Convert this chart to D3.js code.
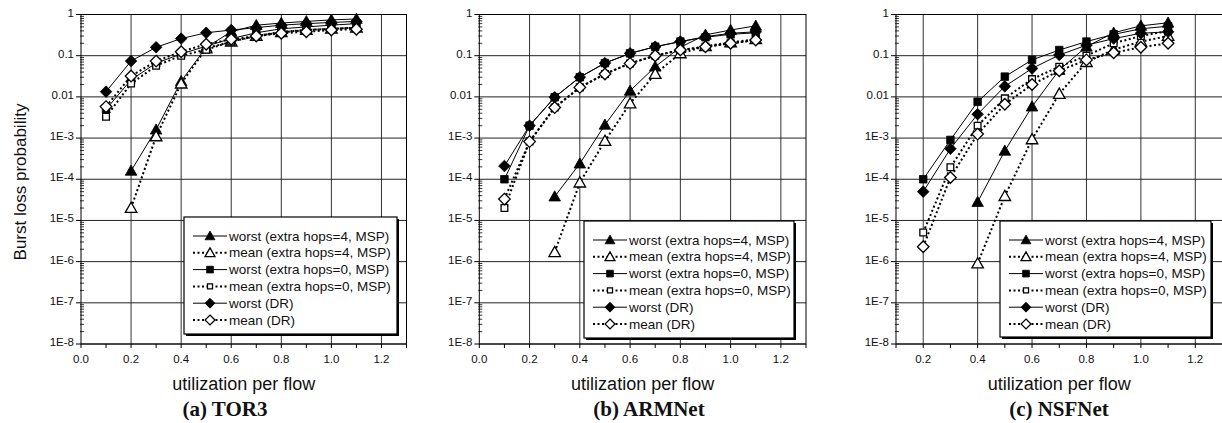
<!DOCTYPE html>
<html>
<head>
<meta charset="utf-8">
<script src="https://cdn.jsdelivr.net/npm/d3@7"></script>
<style>
  body { margin: 0; background: #fff; }
  svg text { font-family: Arial, "Liberation Sans", sans-serif; fill: #111; }
  .title { font-family: "Liberation Serif", "Times New Roman", serif; font-weight: bold; }
</style>
</head>
<body>
<svg id="chart" width="1222" height="423"></svg>
<script>
// ---- data (null = no point) ----
var utilization = [0.1, 0.2, 0.3, 0.4, 0.5, 0.6, 0.7, 0.8, 0.9, 1.0, 1.1];

var seriesLabels = ["worst (extra hops=4, MSP)", "mean (extra hops=4, MSP)",
                    "worst (extra hops=0, MSP)", "mean (extra hops=0, MSP)",
                    "worst (DR)", "mean (DR)"];
var seriesMarkers = ["triangle", "triangle", "square", "square", "diamond", "diamond"];
var seriesFilled = [true, false, true, false, true, false];

// (a) TOR3
var tor3WorstHop4 = [null, 1.6e-4, 1.6e-3, 0.024, 0.16, 0.38, 0.55, 0.62, 0.68, 0.74, 0.78];
var tor3MeanHop4  = [null, 2e-5, 1.1e-3, 0.021, 0.15, 0.22, 0.3, 0.37, 0.42, 0.45, 0.48];
var tor3WorstHop0 = [0.005, 0.026, 0.066, 0.11, 0.17, 0.26, 0.36, 0.45, 0.5, 0.55, 0.6];
var tor3MeanHop0  = [0.0033, 0.021, 0.057, 0.1, 0.14, 0.22, 0.3, 0.38, 0.42, 0.45, 0.48];
var tor3WorstDR   = [0.0134, 0.074, 0.16, 0.26, 0.36, 0.42, 0.48, 0.55, 0.6, 0.64, 0.68];
var tor3MeanDR    = [0.0058, 0.032, 0.074, 0.125, 0.19, 0.25, 0.3, 0.35, 0.38, 0.42, 0.44];

// (b) ARMNet
var armWorstHop4 = [null, null, 3.8e-5, 2.4e-4, 2.1e-3, 0.014, 0.054, 0.16, 0.32, 0.42, 0.53];
var armMeanHop4  = [null, null, 1.7e-6, 8.3e-5, 8.5e-4, 6.9e-3, 0.036, 0.114, 0.17, 0.21, 0.25];
var armWorstHop0 = [1.0e-4, 2e-3, 9.8e-3, 0.03, 0.066, 0.114, 0.165, 0.22, 0.28, 0.33, 0.36];
var armMeanHop0  = [2e-5, 8.2e-4, 5.5e-3, 0.017, 0.036, 0.065, 0.1, 0.137, 0.165, 0.2, 0.24];
var armWorstDR   = [2.1e-4, 2e-3, 9.8e-3, 0.03, 0.066, 0.114, 0.165, 0.22, 0.29, 0.35, 0.38];
var armMeanDR    = [3.3e-5, 8.2e-4, 5.5e-3, 0.017, 0.036, 0.065, 0.1, 0.137, 0.165, 0.2, 0.24];

// (c) NSFNet
var nsfWorstHop4 = [null, null, null, 2.8e-5, 4.9e-4, 5.8e-3, 0.045, 0.165, 0.36, 0.53, 0.63];
var nsfMeanHop4  = [null, null, null, 9e-7, 3.9e-5, 9.3e-4, 0.0118, 0.07, 0.14, 0.22, 0.3];
var nsfWorstHop0 = [null, 1.0e-4, 9e-4, 7.6e-3, 0.031, 0.079, 0.137, 0.22, 0.33, 0.45, 0.52];
var nsfMeanHop0  = [null, 5.1e-6, 1.95e-4, 2e-3, 9.2e-3, 0.027, 0.054, 0.1, 0.2, 0.3, 0.4];
var nsfWorstDR   = [null, 5e-5, 5.5e-4, 3.8e-3, 0.018, 0.049, 0.104, 0.18, 0.26, 0.35, 0.38];
var nsfMeanDR    = [null, 2.3e-6, 1.1e-4, 1.25e-3, 6.6e-3, 0.02, 0.043, 0.079, 0.118, 0.16, 0.2];

var yTickValues = [1, 0.1, 0.01, 1e-3, 1e-4, 1e-5, 1e-6, 1e-7, 1e-8];
var yTickLabels = ["1", "0.1", "0.01", "1E-3", "1E-4", "1E-5", "1E-6", "1E-7", "1E-8"];

// ---- layout ----
var panels = [
  { title: "(a) TOR3", left: 81, right: 406.5, xMin: 0.0, titleX: 225,
    legend: [184, 217, 213, 117],
    series: [tor3WorstHop4, tor3MeanHop4, tor3WorstHop0, tor3MeanHop0, tor3WorstDR, tor3MeanDR] },
  { title: "(b) ARMNet", left: 479.3, right: 806, xMin: 0.0, titleX: 649,
    legend: [584, 221, 210, 117],
    series: [armWorstHop4, armMeanHop4, armWorstHop0, armMeanHop0, armWorstDR, armMeanDR] },
  { title: "(c) NSFNet", left: 896, right: 1222.5, xMin: 0.1, titleX: 1059,
    legend: [1000, 221, 211, 116],
    series: [nsfWorstHop4, nsfMeanHop4, nsfWorstHop0, nsfMeanHop0, nsfWorstDR, nsfMeanDR] }
];
var plotTop = 14.5, plotBottom = 344;

var svg = d3.select("#chart");

var y = d3.scaleLog().domain([1e-8, 1]).range([plotBottom, plotTop]);

function markerPath(type, s) {
  var p = d3.path();
  if (type == "triangle") {
    p.moveTo(0, -s * 0.55); p.lineTo(s * 0.55, s * 0.42); p.lineTo(-s * 0.55, s * 0.42); p.closePath();
  } else if (type == "square") {
    p.rect(-s * 0.42, -s * 0.42, s * 0.84, s * 0.84);
  } else {
    p.moveTo(0, -s * 0.55); p.lineTo(s * 0.55, 0); p.lineTo(0, s * 0.55); p.lineTo(-s * 0.55, 0); p.closePath();
  }
  return p.toString();
}

function drawMarker(g, type, filled, cx, cy, s) {
  g.append("path")
    .attr("d", markerPath(type, s))
    .attr("transform", "translate(" + cx + "," + cy + ")")
    .attr("fill", filled ? "#000" : "#fff")
    .attr("stroke", "#000")
    .attr("stroke-width", filled ? 0.8 : 1.3);
}

panels.forEach(function(p) {
  var g = svg.append("g");
  var x = d3.scaleLinear().domain([p.xMin, 1.3]).range([p.left, p.right]);

  // grid
  var majorX = d3.range(0, 7).map(function(i) { return +(i * 0.2).toFixed(1); })
    .filter(function(v) { return v > p.xMin + 1e-9; });
  g.selectAll(".vgrid").data(majorX).enter().append("line")
    .attr("x1", function(d) { return x(d); }).attr("x2", function(d) { return x(d); })
    .attr("y1", plotTop).attr("y2", plotBottom)
    .attr("stroke", "#333").attr("stroke-width", 1);
  g.selectAll(".hgrid").data(yTickValues).enter().append("line")
    .attr("x1", p.left).attr("x2", p.right)
    .attr("y1", function(d) { return y(d); }).attr("y2", function(d) { return y(d); })
    .attr("stroke", "#222").attr("stroke-width", 1);

  // frame
  g.append("rect")
    .attr("x", p.left).attr("y", plotTop)
    .attr("width", p.right - p.left).attr("height", plotBottom - plotTop)
    .attr("fill", "none").attr("stroke", "#000").attr("stroke-width", 1);

  // y ticks
  var minor = [];
  for (var e = -8; e < 0; e++) for (var m = 2; m < 10; m++) minor.push(m * Math.pow(10, e));
  g.selectAll(".ymin").data(minor).enter().append("line")
    .attr("x1", p.left - 1).attr("x2", p.left + 3)
    .attr("y1", function(d) { return y(d); }).attr("y2", function(d) { return y(d); })
    .attr("stroke", "#000").attr("stroke-width", 0.8);
  g.selectAll(".ymaj").data(yTickValues).enter().append("line")
    .attr("x1", p.left - 5).attr("x2", p.left)
    .attr("y1", function(d) { return y(d); }).attr("y2", function(d) { return y(d); })
    .attr("stroke", "#000");
  g.selectAll(".ylab").data(yTickValues).enter().append("text")
    .attr("x", p.left - 7)
    .attr("y", function(d) { return y(d) + 2; })
    .attr("text-anchor", "end")
    .attr("font-size", "11.5px")
    .text(function(d, i) { return yTickLabels[i]; });

  // x ticks
  var xt = d3.range(0, 14).map(function(i) { return +(i * 0.1).toFixed(1); })
    .filter(function(v) { return v >= p.xMin - 1e-9 && v <= 1.3 + 1e-9; });
  g.selectAll(".xt").data(xt).enter().append("line")
    .attr("x1", function(d) { return x(d); }).attr("x2", function(d) { return x(d); })
    .attr("y1", plotBottom).attr("y2", plotBottom + 4)
    .attr("stroke", "#000");
  var xl = d3.range(0, 7).map(function(i) { return +(i * 0.2).toFixed(1); })
    .filter(function(v) { return v >= p.xMin - 1e-9; });
  g.selectAll(".xlab").data(xl).enter().append("text")
    .attr("x", function(d) { return x(d); })
    .attr("y", plotBottom + 19)
    .attr("text-anchor", "middle")
    .attr("font-size", "11.5px")
    .text(function(d) { return d.toFixed(1); });

  g.append("text")
    .attr("x", (p.left + p.right) / 2).attr("y", 390)
    .attr("text-anchor", "middle").attr("font-size", "18px")
    .text("utilization per flow");
  g.append("text").attr("class", "title")
    .attr("x", p.titleX).attr("y", 416)
    .attr("text-anchor", "middle").attr("font-size", "21px")
    .text(p.title);

  // series lines then markers
  var line = d3.line()
    .defined(function(d) { return d[1] != null; })
    .x(function(d) { return x(d[0]); })
    .y(function(d) { return y(d[1]); });

  p.series.forEach(function(vals, si) {
    var pts = utilization.map(function(u, i) { return [u, vals[i]]; });
    g.append("path")
      .attr("d", line(pts))
      .attr("fill", "none")
      .attr("stroke", "#000")
      .attr("stroke-width", seriesFilled[si] ? 1 : 2)
      .attr("stroke-dasharray", seriesFilled[si] ? null : "2,2.5");
  });
  p.series.forEach(function(vals, si) {
    utilization.forEach(function(u, i) {
      if (vals[i] == null) return;
      var s = seriesMarkers[si] == "square" ? (seriesFilled[si] ? 9 : 8) : 10.5;
      drawMarker(g, seriesMarkers[si], seriesFilled[si], x(u), y(vals[i]), s);
    });
  });

  // legend
  var L = p.legend;
  g.append("rect").attr("x", L[0] + 2).attr("y", L[1] + 2).attr("width", L[2]).attr("height", L[3])
    .attr("fill", "#000");
  g.append("rect").attr("x", L[0]).attr("y", L[1]).attr("width", L[2]).attr("height", L[3])
    .attr("fill", "#fff").attr("stroke", "#000").attr("stroke-width", 1.2);
  seriesLabels.forEach(function(lab, si) {
    var ry = L[1] + 19 + si * 16.8;
    g.append("line")
      .attr("x1", L[0] + 9).attr("x2", L[0] + 43)
      .attr("y1", ry).attr("y2", ry)
      .attr("stroke", "#000")
      .attr("stroke-width", seriesFilled[si] ? 1 : 2)
      .attr("stroke-dasharray", seriesFilled[si] ? null : "2,2.5");
    var s = seriesMarkers[si] == "square" ? (seriesFilled[si] ? 8 : 6) : 9;
    drawMarker(g, seriesMarkers[si], seriesFilled[si], L[0] + 26, ry, s);
    g.append("text")
      .attr("x", L[0] + 45).attr("y", ry + 4.5)
      .attr("font-size", "13.5px")
      .text(lab);
  });
});

// shared y axis title
svg.append("text")
  .attr("transform", "translate(26,182) rotate(-90)")
  .attr("text-anchor", "middle")
  .attr("font-size", "17px")
  .text("Burst loss probability");
</script>
</body>
</html>
